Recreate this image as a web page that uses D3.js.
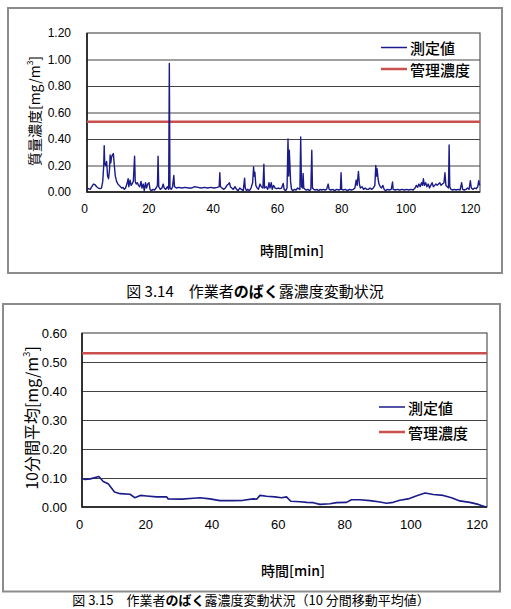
<!DOCTYPE html>
<html>
<head>
<meta charset="utf-8">
<script src="https://cdn.jsdelivr.net/npm/d3@7"></script>
<style>
  body { margin: 0; background: #fff; }
  svg { display: block; }
</style>
</head>
<body>
<svg id="chart" width="511" height="609"></svg>
<script>
// ばく露濃度 (raw) [time min, mg/m3]
const exposure = [
  [0,0.02],[0.5,0.025],[1,0.02],[1.5,0.04],[2,0.06],[2.5,0.055],[3,0.04],[3.5,0.03],[4,0.025],[4.5,0.03],
  [4.9,0.08],[5.2,0.2],[5.35,0.35],[5.5,0.22],[5.8,0.2],[6.1,0.23],[6.4,0.12],[6.7,0.1],[7,0.17],[7.2,0.28],
  [7.4,0.22],[7.6,0.26],[7.9,0.28],[8.2,0.29],[8.5,0.2],[8.8,0.12],[9.2,0.08],[9.6,0.06],[10,0.05],[10.4,0.04],
  [10.8,0.03],[11.2,0.035],[11.6,0.02],[12,0.03],[12.4,0.06],[12.8,0.1],[13,0.04],[13.4,0.09],[13.7,0.05],[14,0.06],
  [14.4,0.08],[14.8,0.27],[15,0.08],[15.3,0.06],[15.7,0.07],[16,0.05],[16.4,0.04],[16.8,0.08],[17.1,0.03],[17.5,0.06],
  [17.8,0.01],[18.2,0.07],[18.5,0.03],[18.9,0.06],[19.3,0.07],[19.6,0.02],[20,0.01],[20.5,0.02],[21,0.015],[21.5,0.03],
  [21.9,0.05],[22.1,0.27],[22.3,0.04],[22.8,0.02],[23.3,0.03],[23.7,0.06],[24,0.03],[24.5,0.02],[25,0.04],[25.4,0.02],
  [25.6,0.97],[25.8,0.03],[26.2,0.02],[26.6,0.04],[27,0.125],[27.2,0.04],[27.8,0.03],[28.5,0.035],[29.5,0.03],[30.5,0.035],
  [31.5,0.03],[32.5,0.03],[33.5,0.04],[34.5,0.035],[35.5,0.03],[36.5,0.035],[37.5,0.03],[38.5,0.035],[39.5,0.03],[40.5,0.035],
  [41.1,0.04],[41.3,0.145],[41.5,0.04],[42,0.03],[42.5,0.02],[43,0.03],[43.5,0.05],[44,0.06],[44.3,0.07],[44.6,0.04],
  [45,0.03],[45.5,0.02],[46,0.04],[46.5,0.02],[47,0.01],[47.5,0.03],[48,0.02],[48.6,0.01],[49,0.105],[49.2,0.03],
  [49.6,0.01],[50,0.02],[50.5,0.01],[51,0.03],[51.5,0.07],[51.8,0.19],[52,0.12],[52.2,0.15],[52.5,0.05],[52.9,0.03],
  [53.3,0.02],[53.8,0.06],[54.2,0.04],[54.7,0.03],[55,0.21],[55.2,0.03],[55.7,0.04],[56.2,0.02],[56.6,0.07],[56.9,0.03],
  [57.3,0.07],[57.6,0.02],[58,0.05],[58.5,0.03],[59,0.025],[59.5,0.03],[60,0.025],[60.5,0.03],[61,0.065],[61.3,0.02],
  [61.8,0.01],[62.2,0.03],[62.5,0.4],[62.7,0.12],[62.9,0.315],[63.1,0.2],[63.3,0.08],[63.6,0.02],[64,0.01],[64.5,0.02],
  [65,0.015],[65.5,0.03],[66.2,0.02],[66.45,0.415],[66.7,0.04],[67,0.03],[67.2,0.14],[67.4,0.03],[67.8,0.02],[68.2,0.015],
  [68.7,0.02],[69.2,0.01],[69.6,0.02],[69.9,0.315],[70.1,0.03],[70.5,0.02],[71,0.015],[71.5,0.02],[72,0.01],[72.5,0.02],
  [73,0.015],[73.5,0.02],[74,0.015],[74.5,0.02],[75,0.06],[75.3,0.02],[75.8,0.015],[76.4,0.02],[77,0.01],[77.6,0.02],
  [78.3,0.015],[78.8,0.02],[79,0.145],[79.2,0.02],[79.7,0.015],[80.3,0.02],[81,0.01],[81.6,0.02],[82.2,0.015],[82.8,0.02],
  [83.3,0.03],[83.7,0.09],[84,0.05],[84.4,0.155],[84.7,0.06],[85,0.03],[85.5,0.04],[86,0.02],[86.5,0.03],[87,0.02],
  [87.5,0.02],[88,0.03],[88.5,0.02],[89,0.03],[89.5,0.05],[89.8,0.2],[90,0.12],[90.2,0.175],[90.5,0.1],[90.8,0.06],
  [91.2,0.04],[91.6,0.03],[92,0.05],[92.4,0.02],[92.9,0.01],[93.4,0.02],[94,0.015],[94.6,0.02],[95,0.075],[95.2,0.02],
  [95.8,0.015],[96.5,0.02],[97.2,0.015],[98,0.02],[98.7,0.015],[99.4,0.02],[100,0.015],[100.7,0.02],[101.4,0.015],[102,0.03],
  [102.4,0.05],[102.8,0.035],[103.2,0.06],[103.6,0.04],[104,0.07],[104.3,0.05],[104.6,0.1],[104.9,0.05],[105.3,0.07],[105.7,0.04],
  [106.1,0.06],[106.5,0.03],[106.9,0.05],[107.3,0.07],[107.7,0.04],[108.1,0.05],[108.5,0.06],[108.9,0.05],[109.3,0.06],[109.7,0.07],
  [110.1,0.05],[110.5,0.06],[111,0.07],[111.3,0.145],[111.6,0.05],[112,0.04],[112.4,0.03],[112.6,0.355],[112.8,0.04],[113.2,0.02],
  [113.7,0.015],[114.2,0.02],[114.8,0.015],[115.4,0.02],[116,0.015],[116.5,0.07],[116.8,0.02],[117.3,0.015],[117.8,0.02],[118.3,0.03],
  [118.8,0.02],[119.2,0.085],[119.5,0.03],[120,0.02],[120.5,0.03],[121,0.025],[121.5,0.04],[121.8,0.085],[122.1,0.05]
];

// 10分間移動平均
const movingAvg = [
  [0,0.098],[0.9,0.095],[2.5,0.097],[5.1,0.105],[6.4,0.088],[7.9,0.08],[9.8,0.052],[11.5,0.046],[14.5,0.044],[15.9,0.032],
  [17.6,0.04],[19.5,0.038],[22.5,0.035],[25.5,0.035],[26,0.028],[30.1,0.027],[33.6,0.03],[35.6,0.032],[38.6,0.028],[41.6,0.022],
  [45.6,0.022],[48.6,0.023],[51.7,0.028],[52.7,0.027],[53.7,0.04],[55.7,0.037],[58.2,0.035],[60.2,0.032],[61.7,0.035],[63,0.02],
  [65.8,0.018],[67.8,0.016],[69.8,0.015],[71.8,0.009],[74.8,0.011],[76.8,0.015],[79.8,0.016],[81.3,0.025],[83.8,0.025],[86.9,0.022],
  [89.9,0.017],[91.9,0.013],[93.9,0.016],[95.9,0.023],[98.4,0.028],[101,0.039],[103.5,0.048],[106,0.043],[109,0.04],[111.5,0.032],
  [114,0.021],[117,0.016],[119.6,0.009],[121.9,0.0]
];

const limitValue = 0.53;          // 管理濃度
const xTicks = [0, 20, 40, 60, 80, 100, 120];
const yTicksA = [0, 0.2, 0.4, 0.6, 0.8, 1.0, 1.2];
const yTicksB = [0, 0.1, 0.2, 0.3, 0.4, 0.5, 0.6];
const legendLabels = ["測定値", "管理濃度"];

const blue = "#1b1b8a", red = "#c9504c";
const numFont = "'Liberation Sans', Arial, sans-serif";
const jpFont = "'Noto Sans CJK JP', sans-serif";

const svg = d3.select("#chart");

function drawPanel(cfg) {
  // outer frame
  svg.append("rect")
    .attr("x", cfg.frame[0]).attr("y", cfg.frame[1])
    .attr("width", cfg.frame[2] - cfg.frame[0]).attr("height", cfg.frame[3] - cfg.frame[1])
    .attr("fill", "none").attr("stroke", "#8c8c8c").attr("stroke-width", 2);

  let x = d3.scaleLinear().domain([0, 122.2]).range([cfg.plot.left, cfg.plot.right]);
  let y = d3.scaleLinear().domain([0, cfg.yMax]).range([cfg.plot.bottom, cfg.plot.top]);

  let g = svg.append("g");

  // grid (axis with long ticks)
  let grid = g.append("g")
    .attr("transform", `translate(${cfg.plot.left},0)`)
    .call(d3.axisRight(y).tickValues(cfg.yTicks.slice(1, -1))
      .tickSize(cfg.plot.right - cfg.plot.left).tickFormat(""));
  grid.select(".domain").remove();
  grid.selectAll(".tick line")
    .attr("stroke", "#444").attr("stroke-width", 1.2);

  // y axis
  let gy = g.append("g")
    .attr("transform", `translate(${cfg.plot.left},0)`)
    .call(d3.axisLeft(y).tickValues(cfg.yTicks).tickFormat(d3.format(".2f")).tickSize(0).tickPadding(cfg.yPad));
  gy.select(".domain").remove();
  gy.selectAll("text").attr("font-family", numFont).attr("font-size", cfg.tickSize).attr("fill", "#000");

  // x axis
  let gx = g.append("g")
    .attr("transform", `translate(0,${cfg.plot.bottom})`)
    .call(d3.axisBottom(x).tickValues(xTicks).tickSize(0).tickPadding(cfg.xPad));
  gx.select(".domain").remove();
  gx.selectAll("text").attr("font-family", numFont).attr("font-size", cfg.tickSize).attr("fill", "#000")
    .attr("dx", -3);

  // plot border
  g.append("rect")
    .attr("x", cfg.plot.left).attr("y", cfg.plot.top)
    .attr("width", cfg.plot.right - cfg.plot.left).attr("height", cfg.plot.bottom - cfg.plot.top)
    .attr("fill", "none").attr("stroke", "#555").attr("stroke-width", 1.2);
  g.append("path")
    .attr("d", `M${cfg.plot.left},${cfg.plot.top}V${cfg.plot.bottom}H${cfg.plot.right}`)
    .attr("fill", "none").attr("stroke", "#111").attr("stroke-width", 1.5);

  // limit line
  g.append("line")
    .attr("x1", x.range()[0]).attr("x2", x.range()[1])
    .attr("y1", y(limitValue)).attr("y2", y(limitValue))
    .attr("stroke", red).attr("stroke-width", 2.5);

  // measured series
  let line = d3.line().x(d => x(d[0])).y(d => y(d[1]));
  g.append("path")
    .datum(cfg.data)
    .attr("d", line)
    .attr("fill", "none").attr("stroke", blue)
    .attr("stroke-width", cfg.lineWidth).attr("stroke-linejoin", "round");

  // legend
  legendLabels.forEach((lab, i) => {
    let ly = cfg.legend.y + i * cfg.legend.gap;
    g.append("line")
      .attr("x1", cfg.legend.x).attr("x2", cfg.legend.x + 26)
      .attr("y1", ly).attr("y2", ly)
      .attr("stroke", i == 0 ? blue : red).attr("stroke-width", i == 0 ? 1.5 : 2.5);
    g.append("text")
      .attr("x", cfg.legend.x + 29).attr("y", ly)
      .attr("dominant-baseline", "central")
      .attr("font-family", jpFont).attr("font-size", 15).attr("font-weight", 500)
      .text(lab);
  });

  // x title
  g.append("text")
    .attr("x", cfg.xTitle[0]).attr("y", cfg.xTitle[1])
    .attr("text-anchor", "middle").attr("dominant-baseline", "central")
    .attr("font-family", jpFont).attr("font-size", 14).attr("font-weight", 500)
    .text("時間[min]");

  // y title
  let yt = g.append("text")
    .attr("transform", `translate(${cfg.yTitle[0]},${cfg.yTitle[1]}) rotate(-90)`)
    .attr("text-anchor", "middle").attr("dominant-baseline", "central")
    .attr("font-family", jpFont).attr("font-size", cfg.yTitleSize);
  yt.append("tspan").text(cfg.yTitleText + "[mg/m");
  yt.append("tspan").attr("font-size", cfg.yTitleSize * 0.6).attr("dy", -5).text("3");
  yt.append("tspan").attr("dy", 5).text("]");

  // caption
  let cap = svg.append("text")
    .attr("x", cfg.caption[0]).attr("y", cfg.caption[1])
    .attr("text-anchor", "middle").attr("dominant-baseline", "central")
    .attr("font-family", jpFont).attr("font-size", cfg.captionSize);
  cap.append("tspan").text(cfg.captionParts[0]);
  cap.append("tspan").attr("font-weight", "bold").text("のばく");
  cap.append("tspan").text(cfg.captionParts[1]);
}

drawPanel({
  frame: [8, 8, 502, 273],
  plot: { left: 87, right: 480, top: 33, bottom: 192 },
  yMax: 1.2, yTicks: yTicksA, data: exposure, lineWidth: 1.4,
  tickSize: 12, yPad: 16, xPad: 12,
  legend: { x: 381, y: 47.5, gap: 21.5 },
  xTitle: [292, 250],
  yTitle: [34, 111], yTitleText: "質量濃度", yTitleSize: 14,
  caption: [255, 290], captionSize: 15, captionParts: ["図 3.14　作業者", "露濃度変動状況"]
});

drawPanel({
  frame: [3, 304, 500, 591.5],
  plot: { left: 82, right: 487, top: 333, bottom: 507 },
  yMax: 0.6, yTicks: yTicksB, data: movingAvg, lineWidth: 1.6,
  tickSize: 13, yPad: 15, xPad: 13,
  legend: { x: 379, y: 407, gap: 25 },
  xTitle: [293, 570],
  yTitle: [31, 418], yTitleText: "10分間平均", yTitleSize: 16,
  caption: [251, 599], captionSize: 13, captionParts: ["図 3.15　作業者", "露濃度変動状況（10 分間移動平均値）"]
});
</script>
</body>
</html>
